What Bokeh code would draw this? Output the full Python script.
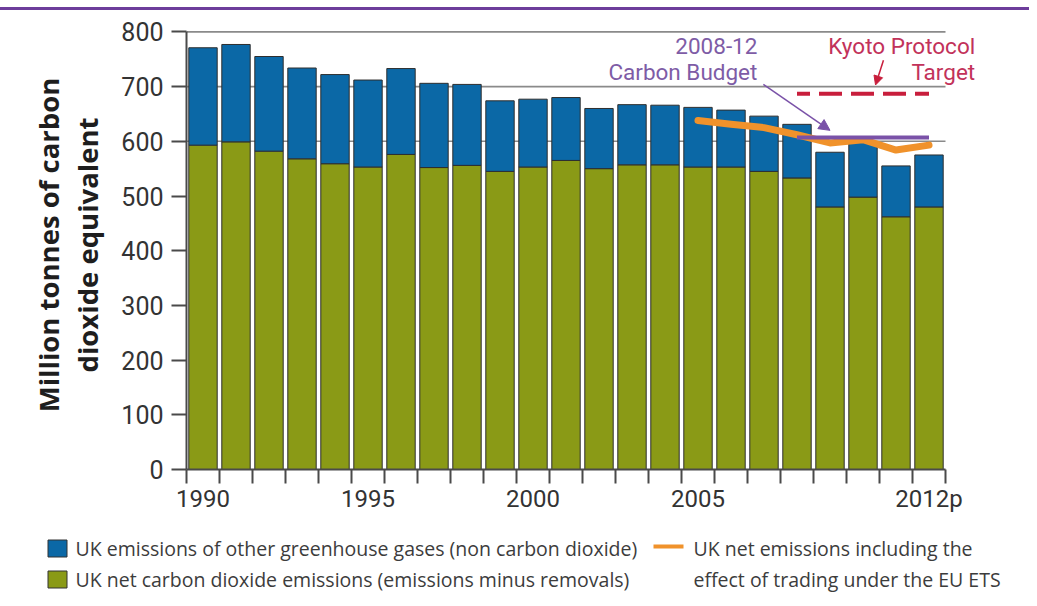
from bokeh.plotting import figure
from bokeh.models import Range1d, FixedTicker, Label, Arrow, NormalHead, Div
from bokeh.layouts import column
from bokeh.embed import file_html
from bokeh.resources import INLINE
from bokeh.core.properties import value

# ---------------- data ----------------
years = list(range(1990, 2013))
co2_net = [593, 599, 582, 568, 559, 553, 576, 552, 556, 545, 553, 565,
           550, 557, 557, 553, 553, 545, 533, 480, 498, 462, 480]
total_ghg = [771, 777, 755, 734, 722, 712, 733, 706, 704, 674, 677, 680,
             660, 667, 666, 662, 657, 646, 631, 580, 598, 555, 575]
ets_years = [2005, 2006, 2007, 2008, 2009, 2010, 2011, 2012]
ets_net = [638, 631, 625, 612, 597, 603, 584, 593]
budget_years = [2008, 2012]
budget_level = 607
kyoto_years = [2008, 2012]
kyoto_level = 687
y_ticks = [0, 100, 200, 300, 400, 500, 600, 700, 800]
grid_values = [600, 700, 800]
label_years = [1990, 1995, 2000, 2005, 2012]
label_texts = ["1990", "1995", "2000", "2005", "2012p"]
legend_labels = [
    "UK emissions of other greenhouse gases (non carbon dioxide)",
    "UK net carbon dioxide emissions (emissions minus removals)",
    "UK net emissions including the",
    "effect of trading under the EU ETS",
]

BLUE = "#0b68a6"
GREEN = "#8a9a16"
ORANGE = "#f0922b"
PURPLE = "#7a52a8"
PURPLE_TXT = "#7e5ca6"
TOPBAR = "#6d3d9b"
RED = "#c81e3c"
RED_TXT = "#c2325a"
AXIS = "#4a4a4a"
FONT = "Roboto"
LFONT = "Open Sans"

# ---------------- main chart ----------------
W = 1021
H_MAIN = 520
ML, MR, MT, MB = 186, 21, 10, 61
slot = 33.0            # px per year
ppu = 0.547            # px per Mt
x0 = years[0] - 0.5
x_end = x0 + (W - ML - MR) / slot
y_end = (H_MAIN - MT - MB) / ppu

p = figure(width=W, height=H_MAIN, x_range=Range1d(x0, x_end), y_range=Range1d(0, y_end),
           output_backend="svg", toolbar_location=None,
           min_border_left=ML, min_border_right=MR, min_border_top=MT, min_border_bottom=MB)
p.frame_align = False
p.outline_line_color = None
p.background_fill_color = "white"
p.border_fill_color = "white"
p.xgrid.visible = False
p.ygrid.visible = False

# grid lines limited to the axis extent
p.segment(x0=x0, x1=years[-1] + 0.5, y0=grid_values, y1=grid_values,
          line_color="#8a8a8a", line_width=1.6, level="underlay")

p.vbar(x=years, width=0.86, bottom=0, top=co2_net, fill_color=GREEN,
       line_color="#2e2e2e", line_width=1)
p.vbar(x=years, width=0.86, bottom=co2_net, top=total_ghg, fill_color=BLUE,
       line_color="#2e2e2e", line_width=1)

p.line(ets_years, ets_net, line_width=7, line_color=ORANGE,
       line_cap="round", line_join="round")
p.line(budget_years, [budget_level] * len(budget_years), line_width=4, line_color=PURPLE)
p.line(kyoto_years, [kyoto_level] * len(kyoto_years), line_width=4, line_color=RED,
       line_dash="23 9", line_dash_offset=10)

# annotations
for txt, yy in [("2008-12", 774), ("Carbon Budget", 726)]:
    p.add_layout(Label(x=2006.8, y=yy, text=txt, text_align="right", text_baseline="middle",
                       text_font=FONT, text_font_size="22.5px", text_color=PURPLE_TXT))
for txt, yy in [("Kyoto Protocol", 774), ("Target", 726)]:
    p.add_layout(Label(x=2013.4, y=yy, text=txt, text_align="right", text_baseline="middle",
                       text_font=FONT, text_font_size="22.5px", text_color=RED_TXT))

p.add_layout(Arrow(x_start=2006.98, y_start=704, x_end=2009.0, y_end=620,
                   line_color=PURPLE, line_width=1.5,
                   end=NormalHead(size=11, fill_color=PURPLE, line_color=PURPLE)))
p.add_layout(Arrow(x_start=2010.62, y_start=748, x_end=2010.38, y_end=703,
                   line_color=RED, line_width=1.5,
                   end=NormalHead(size=9, fill_color=RED, line_color=RED)))

# y axis
ya = p.yaxis[0]
ya.ticker = FixedTicker(ticks=y_ticks)
ya.bounds = (y_ticks[0], y_ticks[-1])
ya.major_tick_out = 15
ya.major_tick_in = 0
ya.minor_tick_out = 0
ya.minor_tick_in = 0
ya.axis_line_color = AXIS
ya.axis_line_width = 2
ya.major_tick_line_color = AXIS
ya.major_tick_line_width = 2
ya.major_label_text_font = FONT
ya.major_label_text_font_size = "25px"
ya.major_label_text_color = "#333333"
ya.major_label_standoff = 8
ya.axis_label = "Million tonnes of carbon\ndioxide equivalent"
ya.axis_label_text_font = LFONT
ya.axis_label_text_font_size = "27.5px"
ya.axis_label_text_font_style = "bold"
ya.axis_label_text_color = "#1e1e1e"
ya.axis_label_text_line_height = 1.05
ya.axis_label_standoff = 12

# x axis
xa = p.xaxis[0]
xa.ticker = FixedTicker(ticks=label_years, minor_ticks=[y - 0.5 for y in years] + [years[-1] + 0.5])
xa.bounds = (x0, years[-1] + 0.5)
xa.major_label_overrides = {yr: t for yr, t in zip(label_years, label_texts)}
xa.major_tick_out = 0
xa.major_tick_in = 0
xa.minor_tick_out = 14
xa.minor_tick_in = 0
xa.minor_tick_line_color = AXIS
xa.minor_tick_line_width = 2
xa.axis_line_color = AXIS
xa.axis_line_width = 2
xa.major_label_text_font = FONT
xa.major_label_text_font_size = "24px"
xa.major_label_text_color = "#333333"
xa.major_label_standoff = 1

# ---------------- legend panel (pixel coordinates of the picture) ----------------
LEG_TOP, LEG_BOTTOM = 530, 598
lg = figure(width=W, height=LEG_BOTTOM - LEG_TOP, x_range=Range1d(0, W),
            y_range=Range1d(LEG_BOTTOM, LEG_TOP),
            output_backend="svg", toolbar_location=None, x_axis_type=None, y_axis_type=None,
            min_border=0, min_border_left=0, min_border_right=0,
            min_border_top=0, min_border_bottom=0)
lg.frame_align = False
lg.outline_line_color = None
lg.grid.visible = False
lg.rect(x=[57, 57], y=[548, 579], width=19, height=17, fill_color=[BLUE, GREEN],
        line_color="#333333", line_width=1)
lg.segment(x0=[653], x1=[683], y0=[546], y1=[546], line_color=ORANGE, line_width=4)
lg.text(x=[75, 75, 693, 693], y=[548, 579, 548, 579], text=legend_labels,
        text_font=value(LFONT), text_font_size="19.5px", text_color="#3c3c3c",
        text_baseline="middle")

top_bar = Div(text="", width=W + 8, height=3, margin=(7, 0, 0, 0),
              styles={"background-color": TOPBAR})

layout = column(top_bar, p, lg, spacing=0)
open("out.html", "w").write(file_html(layout, INLINE))
